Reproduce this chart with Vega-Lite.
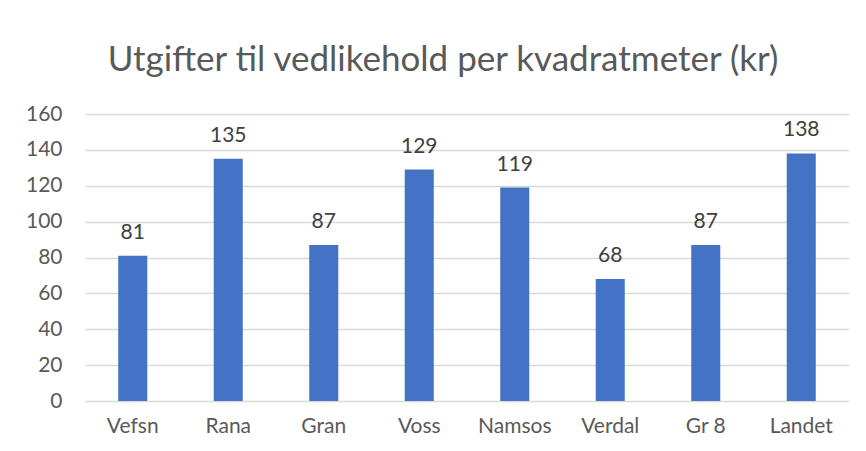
{
  "$schema": "https://vega.github.io/schema/vega-lite/v6.json",
  "width": 764,
  "height": 287,
  "autosize": {"type": "none"},
  "padding": {"left": 85, "top": 114, "right": 17, "bottom": 50},
  "background": "white",
  "title": {
    "text": "Utgifter til vedlikehold per kvadratmeter (kr)",
    "font": "Lato",
    "fontSize": 35,
    "fontWeight": "normal",
    "color": "#595959",
    "anchor": "middle",
    "frame": "group",
    "baseline": "alphabetic",
    "offset": -3,
    "dx": -24
  },
  "data": {
    "values": [
      {"kommune": "Vefsn", "verdi": 81},
      {"kommune": "Rana", "verdi": 135},
      {"kommune": "Gran", "verdi": 87},
      {"kommune": "Voss", "verdi": 129},
      {"kommune": "Namsos", "verdi": 119},
      {"kommune": "Verdal", "verdi": 68},
      {"kommune": "Gr 8", "verdi": 87},
      {"kommune": "Landet", "verdi": 138}
    ]
  },
  "encoding": {
    "x": {
      "field": "kommune",
      "type": "nominal",
      "sort": null,
      "scale": {"paddingInner": 0.696, "paddingOuter": 0.348},
      "axis": {
        "title": null,
        "labelAngle": 0,
        "labelFont": "Lato",
        "labelFontSize": 21,
        "labelColor": "#595959",
        "labelPadding": 14,
        "ticks": false,
        "domain": false
      }
    },
    "y": {
      "field": "verdi",
      "type": "quantitative",
      "scale": {"domain": [0, 160]},
      "axis": {
        "title": null,
        "values": [0, 20, 40, 60, 80, 100, 120, 140, 160],
        "labelFont": "Lato",
        "labelFontSize": 21,
        "labelColor": "#595959",
        "labelPadding": 23,
        "ticks": false,
        "domain": false,
        "grid": true,
        "gridColor": "#d9d9d9",
        "gridWidth": 1.5
      }
    }
  },
  "layer": [
    {"mark": {"type": "bar", "color": "#4472c4"}},
    {
      "mark": {
        "type": "text",
        "font": "Lato",
        "fontSize": 21,
        "color": "#404040",
        "baseline": "alphabetic",
        "dy": -17
      },
      "encoding": {"text": {"field": "verdi", "type": "quantitative"}}
    }
  ],
  "config": {"view": {"stroke": null}}
}
